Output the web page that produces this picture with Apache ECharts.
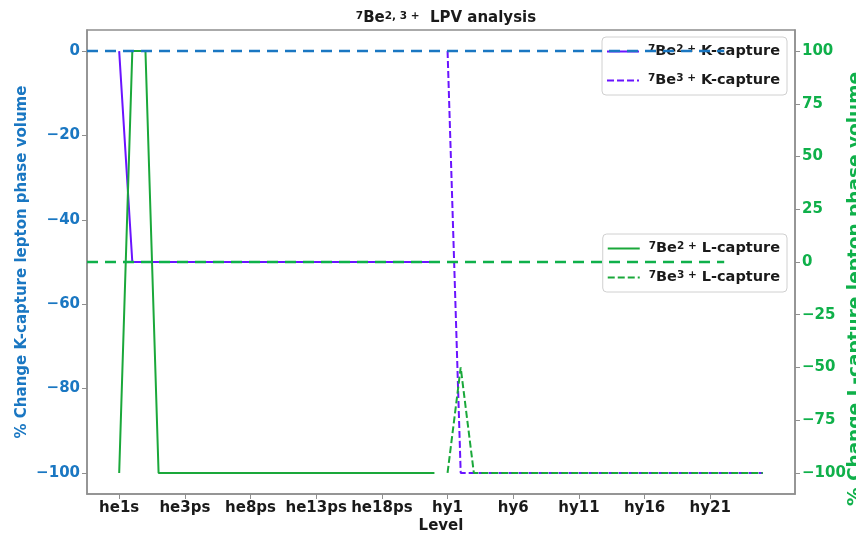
<!DOCTYPE html>
<html>
<head>
<meta charset="utf-8">
<script src="https://cdn.jsdelivr.net/npm/echarts@6/dist/echarts.min.js"></script>
<style>
  html, body { margin: 0; padding: 0; background: #fff; }
  #chart { width: 856px; height: 534px; }
</style>
</head>
<body>
<div id="chart"></div>
<script>
// Energy levels: helium-like (2+) then hydrogen-like (3+)
const levels = [
  'he1s', 'he2s', 'he3s', 'he4s', 'he2ps',
  'he3ps', 'he4ps', 'he5ps', 'he6ps', 'he7ps',
  'he8ps', 'he9ps', 'he10ps', 'he11ps', 'he12ps',
  'he13ps', 'he14ps', 'he15ps', 'he16ps', 'he17ps',
  'he18ps', 'he19ps', 'he20ps', 'he21ps', 'he22ps',
  'hy1', 'hy2', 'hy3', 'hy4', 'hy5',
  'hy6', 'hy7', 'hy8', 'hy9', 'hy10',
  'hy11', 'hy12', 'hy13', 'hy14', 'hy15',
  'hy16', 'hy17', 'hy18', 'hy19', 'hy20',
  'hy21', 'hy22', 'hy23', 'hy24', 'hy25'
];

// Level names printed on the x axis
const tickLevels = ['he1s', 'he3ps', 'he8ps', 'he13ps', 'he18ps', 'hy1', 'hy6', 'hy11', 'hy16', 'hy21'];

// Tick values
const leftTicks = [-100, -80, -60, -40, -20, 0];
const rightTicks = [-100, -75, -50, -25, 0, 25, 50, 75, 100];

// % change of K-capture lepton phase volume (left axis)
const kCapture2 = [
  0, -50, -50, -50, -50, -50, -50, -50, -50, -50,
  -50, -50, -50, -50, -50, -50, -50, -50, -50, -50,
  -50, -50, -50, -50, -50,
  null, null, null, null, null, null, null, null, null, null,
  null, null, null, null, null, null, null, null, null, null,
  null, null, null, null, null
];
const kCapture3 = [
  null, null, null, null, null, null, null, null, null, null,
  null, null, null, null, null, null, null, null, null, null,
  null, null, null, null, null,
  0, -100, -100, -100, -100, -100, -100, -100, -100, -100,
  -100, -100, -100, -100, -100, -100, -100, -100, -100, -100,
  -100, -100, -100, -100, -100
];

// % change of L-capture lepton phase volume (right axis)
const lCapture2 = [
  -100, 100, 100, -100, -100, -100, -100, -100, -100, -100,
  -100, -100, -100, -100, -100, -100, -100, -100, -100, -100,
  -100, -100, -100, -100, -100,
  null, null, null, null, null, null, null, null, null, null,
  null, null, null, null, null, null, null, null, null, null,
  null, null, null, null, null
];
const lCapture3 = [
  null, null, null, null, null, null, null, null, null, null,
  null, null, null, null, null, null, null, null, null, null,
  null, null, null, null, null,
  -100, -50, -100, -100, -100, -100, -100, -100, -100, -100,
  -100, -100, -100, -100, -100, -100, -100, -100, -100, -100,
  -100, -100, -100, -100, -100
];

// Zero-change reference lines, spanning a fraction of the plot width
const refSpan = [0, 0.9];
const kZero = 0;
const lZero = 0;

const BLUE = '#1a77c2';
const GREEN = '#0fb04a';
const GREEN_LINE = '#1aa83a';
const PURPLE = '#6a14ff';
const FRAME = '#8f8f8f';
const FONT = 'DejaVu Sans';

const names = {
  k2: 'Be2 K-capture',
  k3: 'Be3 K-capture',
  l2: 'Be2 L-capture',
  l3: 'Be3 L-capture'
};
const richLabels = {
  [names.k2]: '{sup|7}Be{sup|2 +} K-capture',
  [names.k3]: '{sup|7}Be{sup|3 +} K-capture',
  [names.l2]: '{sup|7}Be{sup|2 +} L-capture',
  [names.l3]: '{sup|7}Be{sup|3 +} L-capture'
};

const richSup = {
  sup: { fontSize: 10.5, fontWeight: 'bold', fontFamily: FONT, verticalAlign: 'top', lineHeight: 10, color: '#1a1a1a' }
};

const pairs = vals => levels.map((c, i) => [i, vals[i]]);
const minus = v => String(v).replace('-', '\u2212');
const n = levels.length;

const chart = echarts.init(document.getElementById('chart'), null, { renderer: 'canvas' });

const legendCommon = {
  orient: 'vertical',
  right: 69,
  itemWidth: 32,
  itemHeight: 14,
  itemGap: 14,
  padding: [7, 7, 7, 4],
  borderColor: '#d0d0d0',
  borderWidth: 1,
  borderRadius: 4,
  backgroundColor: 'rgba(255,255,255,0.85)',
  itemStyle: { opacity: 0 },
  textStyle: {
    fontFamily: FONT, fontWeight: 'bold', fontSize: 14.5, color: '#1a1a1a',
    padding: [0, 0, 0, 4],
    rich: richSup
  },
  formatter: name => richLabels[name]
};

const axisLineStyle = { show: true, onZero: false, lineStyle: { color: FRAME, width: 1.5 } };

chart.setOption({
  animation: false,
  backgroundColor: '#fff',
  title: {
    text: '{sup|7}Be{sup|2, 3 +}  LPV analysis',
    left: 441,
    textAlign: 'center',
    top: 6,
    textStyle: {
      fontFamily: FONT, fontWeight: 'bold', fontSize: 15, color: '#1a1a1a',
      rich: richSup
    }
  },
  grid: {
    left: 87, right: 61, top: 30, bottom: 40,
    outerBoundsMode: 'none',
    containLabel: false,
    show: true, borderColor: FRAME, borderWidth: 1.5, backgroundColor: 'transparent'
  },
  legend: [
    Object.assign({}, legendCommon, { top: 37, data: [names.k2, names.k3] }),
    Object.assign({}, legendCommon, { top: 234, data: [names.l2, names.l3] })
  ],
  xAxis: [
    {
      type: 'value',
      min: -0.05 * (n - 1),
      max: (n - 1) * 1.05,
      name: 'Level',
      nameLocation: 'middle',
      nameGap: 25,
      nameMoveOverlap: false,
      nameTextStyle: { fontFamily: FONT, fontWeight: 'bold', fontSize: 15, color: '#1a1a1a' },
      axisLine: axisLineStyle,
      splitLine: { show: false },
      axisTick: {
        show: true, length: 5, lineStyle: { color: FRAME, width: 1 },
        customValues: tickLevels.map(l => levels.indexOf(l))
      },
      axisLabel: {
        customValues: tickLevels.map(l => levels.indexOf(l)),
        formatter: v => levels[Math.round(v)],
        fontFamily: FONT, fontWeight: 'bold', fontSize: 15, color: '#1a1a1a', margin: 7
      }
    },
    {
      type: 'value', min: 0, max: 1, show: false,
      axisLine: { show: false, onZero: false }, axisTick: { show: false }, axisLabel: { show: false }
    }
  ],
  yAxis: [
    {
      type: 'value',
      position: 'left',
      min: -105, max: 5,
      name: '% Change K-capture lepton phase volume',
      nameLocation: 'middle',
      nameRotate: 90,
      nameGap: 57,
      nameMoveOverlap: false,
      nameTextStyle: { fontFamily: FONT, fontWeight: 'bold', fontSize: 15, color: BLUE },
      axisLine: axisLineStyle,
      splitLine: { show: false },
      minorTick: { show: false },
      axisTick: { show: true, length: 5, lineStyle: { color: FRAME, width: 1 }, customValues: leftTicks },
      axisLabel: {
        customValues: leftTicks, formatter: minus,
        fontFamily: FONT, fontWeight: 'bold', fontSize: 15, color: BLUE, margin: 7
      }
    },
    {
      type: 'value',
      position: 'right',
      min: -110, max: 110,
      name: '% Change L-capture lepton phase volume',
      nameLocation: 'middle',
      nameRotate: 90,
      nameGap: 51,
      nameMoveOverlap: false,
      nameTextStyle: {
        fontFamily: FONT, fontWeight: 'bold', fontSize: 18.5, color: GREEN,
        padding: [0, 54, 0, 0]
      },
      axisLine: axisLineStyle,
      splitLine: { show: false },
      minorTick: { show: false },
      axisTick: { show: true, length: 5, lineStyle: { color: FRAME, width: 1 }, customValues: rightTicks },
      axisLabel: {
        customValues: rightTicks, formatter: minus,
        fontFamily: FONT, fontWeight: 'bold', fontSize: 15, color: GREEN, margin: 7
      }
    }
  ],
  series: [
    {
      name: names.k2, type: 'line', xAxisIndex: 0, yAxisIndex: 0,
      data: pairs(kCapture2), symbol: 'none', connectNulls: false,
      lineStyle: { color: PURPLE, width: 2 }, itemStyle: { color: PURPLE }, z: 3
    },
    {
      name: names.k3, type: 'line', xAxisIndex: 0, yAxisIndex: 0,
      data: pairs(kCapture3), symbol: 'none', connectNulls: false,
      lineStyle: { color: PURPLE, width: 2, type: [7, 3] }, itemStyle: { color: PURPLE }, z: 3
    },
    {
      name: names.l2, type: 'line', xAxisIndex: 0, yAxisIndex: 1,
      data: pairs(lCapture2), symbol: 'none', connectNulls: false,
      lineStyle: { color: GREEN_LINE, width: 2 }, itemStyle: { color: GREEN_LINE }, z: 3
    },
    {
      name: names.l3, type: 'line', xAxisIndex: 0, yAxisIndex: 1,
      data: pairs(lCapture3), symbol: 'none', connectNulls: false,
      lineStyle: { color: GREEN_LINE, width: 2, type: [7, 3] }, itemStyle: { color: GREEN_LINE }, z: 3
    },
    {
      name: 'k-zero', type: 'line', xAxisIndex: 1, yAxisIndex: 0,
      data: refSpan.map(x => [x, kZero]), symbol: 'none', silent: true,
      lineStyle: { color: BLUE, width: 2.5, type: [11, 7] }, z: 10
    },
    {
      name: 'l-zero', type: 'line', xAxisIndex: 1, yAxisIndex: 1,
      data: refSpan.map(x => [x, lZero]), symbol: 'none', silent: true,
      lineStyle: { color: GREEN, width: 2.5, type: [11, 7] }, z: 10
    }
  ]
});
</script>
</body>
</html>
